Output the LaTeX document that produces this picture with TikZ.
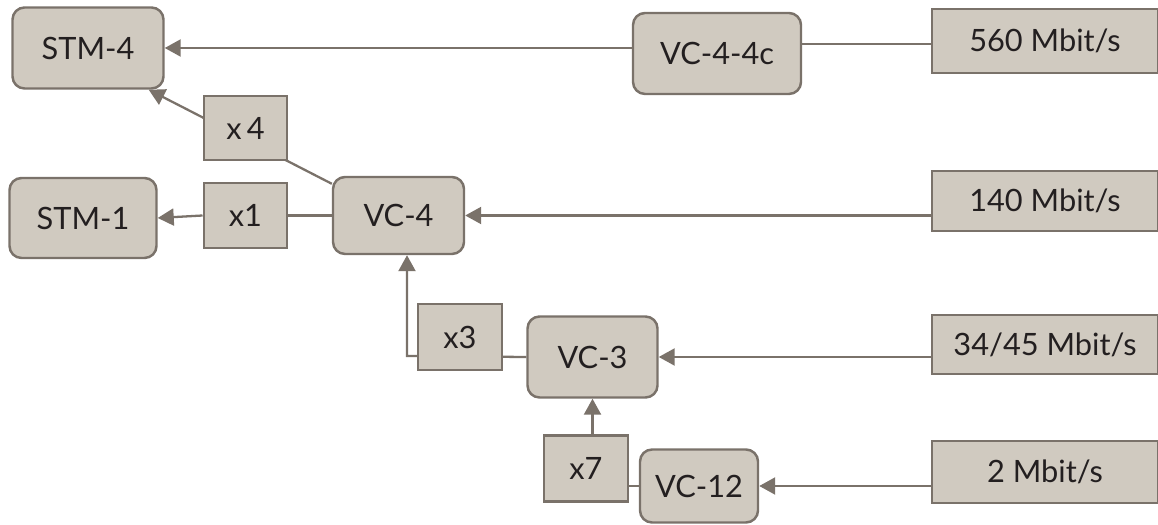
\documentclass[tikz,border=0pt]{standalone}
\usepackage{fontspec}
\setmainfont{Lato}
\usepackage{tikz}
\usepackage{xcolor}
\usetikzlibrary{
    arrows.meta,
    backgrounds
}
\definecolor{boxfill}{RGB}{208, 202, 192}
\definecolor{boxline}{RGB}{122, 114, 106}
\definecolor{labeltext}{RGB}{35, 31, 32}

\tikzset{
    vcbox/.style={draw=boxline, line width=1.4pt, fill=boxfill, rounded corners=0.24cm, inner sep=0cm, text=labeltext, font=\fontsize{17.5}{20}\selectfont},
    mulbox/.style={draw=boxline, line width=1.4pt, fill=boxfill, minimum width=1.67cm, minimum height=1.3cm, inner sep=0cm, text=labeltext, font=\fontsize{17.5}{20}\selectfont},
    ratebox/.style={draw=boxline, line width=1.4pt, fill=boxfill, minimum width=4.52cm, inner sep=0cm, text=labeltext, font=\fontsize{17.5}{20}\selectfont},
    link/.style={draw=boxline, line width=1.3pt},
    flow/.style={draw=boxline, line width=1.3pt, -{Triangle[length=0.32cm, width=0.34cm]}}
}

\begin{document}
\begin{tikzpicture}
            \useasboundingbox (0, 0) rectangle (23.16, 10.48);

            \node[vcbox, minimum width=3.02cm, minimum height=1.62cm] (stm4) at (1.76, 9.52) {STM-4};
            \node[vcbox, minimum width=2.94cm, minimum height=1.6cm] (stm1) at (1.66, 6.12) {STM-1};

            \node[vcbox, minimum width=3.36cm, minimum height=1.62cm] (vc44c) at (14.34, 9.41) {VC-4-4c};
            \node[vcbox, minimum width=2.62cm, minimum height=1.54cm] (vc4) at (7.97, 6.17) {VC-4};
            \node[vcbox, minimum width=2.6cm, minimum height=1.62cm] (vc3) at (11.85, 3.34) {VC-3};
            \node[vcbox, minimum width=2.36cm, minimum height=1.46cm] (vc12) at (13.98, 0.76) {VC-12};

            \node[ratebox, minimum height=1.28cm] (r560) at (20.9, 9.66) {560 Mbit/s};
            \node[ratebox, minimum height=1.2cm] (r140) at (20.9, 6.46) {140 Mbit/s};
            \node[ratebox, minimum height=1.18cm] (r3445) at (20.9, 3.59) {34/45 Mbit/s};
            \node[ratebox, minimum height=1.24cm] (r2) at (20.9, 1.04) {2 Mbit/s};

            \node[mulbox, minimum height=1.28cm] (x4) at (4.91, 7.92) {x\,4};
            \node[mulbox] (x1) at (4.91, 6.17) {x1};
            \node[mulbox, minimum height=1.32cm] (x3) at (9.2, 3.74) {x3};
            \node[mulbox, minimum height=1.32cm] (x7) at (11.72, 1.11) {x7};

            \coordinate (bend3) at (8.14, 3.36);

            \begin{scope}[on background layer]
                \draw[flow] ([yshift=-0.16cm]vc4.north west) -- ([xshift=-0.32cm]stm4.south east);
                \draw[flow] (vc3.west) -- (bend3) -- (bend3 |- vc4.south);
            \end{scope}

            \draw[link] ([yshift=-0.06cm]r560.west) -- ([yshift=-0.06cm]r560.west -| vc44c.east);
            \draw[flow] (vc44c.west |- stm4.east) -- (stm4.east);

            \draw[flow] (r140.west |- vc4.east) -- (vc4.east);
            \draw[link] (vc4.west) -- (x1.east);
            \draw[flow] (x1.west) -- (stm1.east);

            \draw[flow] (r3445.west |- vc3.east) -- (vc3.east);

            \draw[flow] (r2.west |- vc12.east) -- (vc12.east);
            \draw[link] (vc12.west) -- (vc12.west -| x7.east);
            \draw[flow] (vc3.south |- x7.north) -- (vc3.south);
        \end{tikzpicture}
\end{document}
